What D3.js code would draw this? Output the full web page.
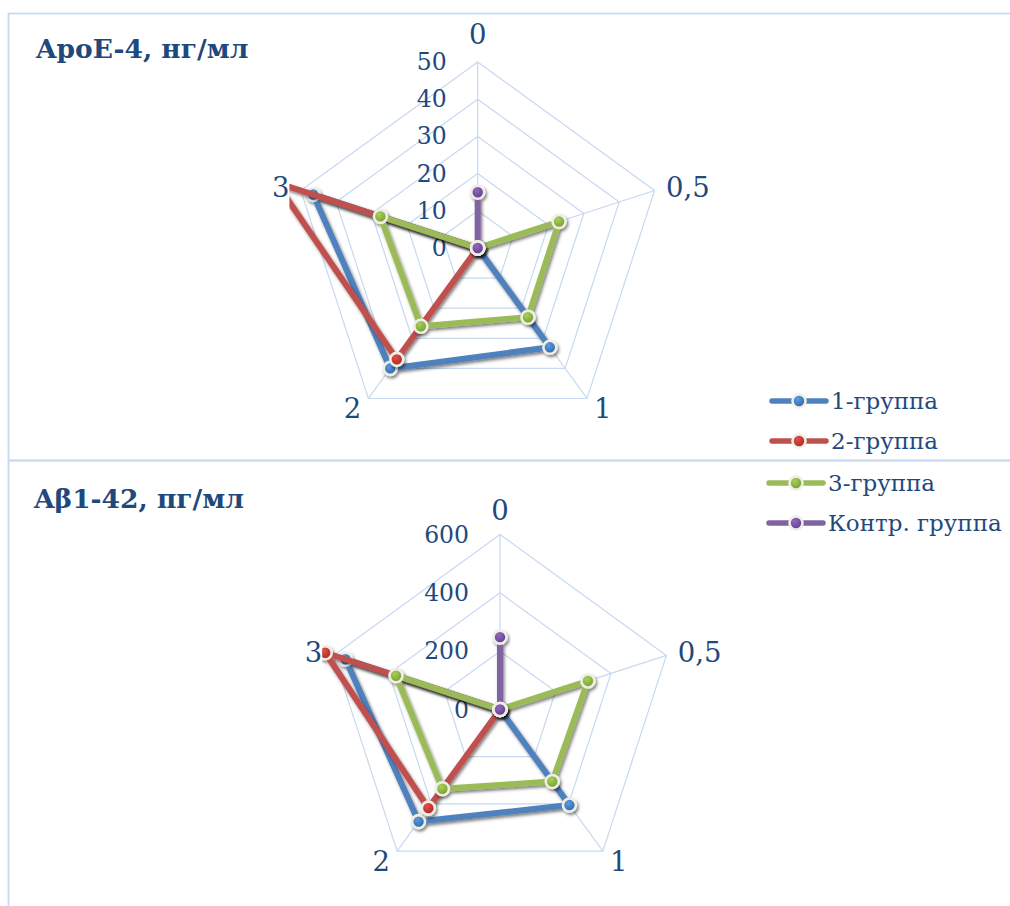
<!DOCTYPE html>
<html><head><meta charset="utf-8">
<script src="https://cdn.jsdelivr.net/npm/d3@7"></script>
<style>
html,body{margin:0;padding:0;background:#fff;}
svg{display:block;}
</style></head>
<body>
<svg id="chart" width="1010" height="906"></svg>
<script>
// ---- data ----
const categories = ["0", "0,5", "1", "2", "3"];
const seriesNames = ["1-группа", "2-группа", "3-группа", "Контр. группа"];

const apoeTitle = "ApoE-4, нг/мл";
const apoeGroup1 = [0, 0, 33, 40, 46.5];
const apoeGroup2 = [0, 0, 0, 37, 57];
const apoeGroup3 = [0, 23, 23, 26, 27.5];
const apoeControl = [15, 0, 0, 0, 0];
const apoeTicks = [0, 10, 20, 30, 40, 50];

const abTitle = "Aβ1-42, пг/мл";
const abGroup1 = [0, 0, 405, 475, 557];
const abGroup2 = [0, 0, 0, 418, 630];
const abGroup3 = [0, 317, 305, 336, 375];
const abControl = [248, 0, 0, 0, 0];
const abTicks = [0, 200, 400, 600];

// ---- styles ----
const lineColors = ["#4f81bd", "#c0504d", "#9bbb59", "#8064a2"];
const markLight = ["#5b9be0", "#e0504a", "#a8d05a", "#9467c0"];
const markDark = ["#2a63a6", "#a8221e", "#6f9a2a", "#5c3a86"];
const textColor = "#1f497d";
const gridColor = "#c6d9f1";
const font = "'DejaVu Serif', 'Liberation Serif', serif";

const svg = d3.select("#chart");
const defs = svg.append("defs");
const f = defs.append("filter").attr("id", "sh")
  .attr("x", "-30%").attr("y", "-30%").attr("width", "160%").attr("height", "160%");
f.append("feDropShadow").attr("dx", 1.5).attr("dy", 2.2).attr("stdDeviation", 1.6)
  .attr("flood-color", "#000").attr("flood-opacity", 0.5);
lineColors.forEach((c, i) => {
  const g = defs.append("radialGradient").attr("id", "mg" + i)
    .attr("cx", "40%").attr("cy", "35%").attr("r", "70%");
  g.append("stop").attr("offset", "0%").attr("stop-color", markLight[i]);
  g.append("stop").attr("offset", "100%").attr("stop-color", markDark[i]);
});

// chart boxes
svg.append("rect").attr("x", 8.5).attr("y", 13.5).attr("width", 1010).attr("height", 447)
  .attr("fill", "none").attr("stroke", gridColor).attr("stroke-width", 1.8);
svg.append("rect").attr("x", 8.5).attr("y", 460.5).attr("width", 1010).attr("height", 460)
  .attr("fill", "none").attr("stroke", gridColor).attr("stroke-width", 1.8);

const N = categories.length;
const ang = i => i * 2 * Math.PI / N;

function radar(cfg) {
  const {cx, cy, R, ticks, series, title, titleX, titleY, id, labelOff} = cfg;
  const max = ticks[ticks.length - 1];
  const r = d3.scaleLinear().domain([0, max]).range([0, R]);
  const g = svg.append("g").attr("transform", `translate(${cx},${cy})`);

  svg.append("text").attr("x", titleX).attr("y", titleY)
    .attr("font-family", font).attr("font-weight", "bold").attr("font-size", 26.5)
    .attr("fill", textColor).text(title);

  // grid rings
  const ring = d3.lineRadial().angle((d, i) => ang(i)).radius(d => r(d)).curve(d3.curveLinearClosed);
  ticks.filter(t => t > 0).forEach(t => {
    g.append("path").attr("d", ring(categories.map(() => t)))
      .attr("fill", "none").attr("stroke", gridColor).attr("stroke-width", 1.2);
  });
  // spokes
  categories.forEach((c, i) => {
    g.append("line").attr("x1", 0).attr("y1", 0)
      .attr("x2", r(max) * Math.sin(ang(i))).attr("y2", -r(max) * Math.cos(ang(i)))
      .attr("stroke", gridColor).attr("stroke-width", 1.2);
  });
  // tick labels
  ticks.forEach(t => {
    g.append("text").attr("x", -31).attr("y", -r(t))
      .attr("text-anchor", "end").attr("dominant-baseline", "central")
      .attr("font-family", font).attr("font-size", 23.5).attr("fill", textColor).text(t);
  });
  // category labels
  categories.forEach((c, i) => {
    const a = ang(i);
    const s = Math.sin(a), co = Math.cos(a);
    let x, y, anchor;
    if (i === 0) { x = 0; y = -(R + labelOff); anchor = "middle"; }
    else {
      x = (R + 12) * s; y = -(R + 12) * co;
      anchor = s > 0 ? "start" : "end";
    }
    g.append("text").attr("x", x).attr("y", y)
      .attr("text-anchor", anchor).attr("dominant-baseline", "central")
      .attr("font-family", font).attr("font-size", 27.5).attr("fill", textColor).text(c);
  });

  // clip on the left side (plot area)
  const clipLeft = -(R + 12) * Math.sin(2 * Math.PI / N);
  defs.append("clipPath").attr("id", "clip" + id).append("rect")
    .attr("x", clipLeft).attr("y", -R - 80).attr("width", 600).attr("height", 2 * R + 160);

  const line = d3.lineRadial().angle((d, i) => ang(i)).radius(d => r(d)).curve(d3.curveLinearClosed);
  const plot = g.append("g").attr("clip-path", `url(#clip${id})`);
  series.forEach((vals, si) => {
    const sg = plot.append("g").attr("filter", "url(#sh)");
    sg.append("path").attr("d", line(vals))
      .attr("fill", "none").attr("stroke", lineColors[si]).attr("stroke-width", 6)
      .attr("stroke-linejoin", "miter").attr("stroke-miterlimit", 4);
    sg.selectAll("circle").data(vals).join("circle")
      .attr("cx", (d, i) => r(d) * Math.sin(ang(i)))
      .attr("cy", (d, i) => -r(d) * Math.cos(ang(i)))
      .attr("r", 6.5)
      .attr("fill", `url(#mg${si})`).attr("stroke", "#efeee4").attr("stroke-width", 2.6);
  });
}

radar({id: "a", cx: 477.7, cy: 248, R: 186, ticks: apoeTicks,
  series: [apoeGroup1, apoeGroup2, apoeGroup3, apoeControl],
  title: apoeTitle, titleX: 36, titleY: 58, labelOff: 28});
radar({id: "b", cx: 500, cy: 709.5, R: 175, ticks: abTicks,
  series: [abGroup1, abGroup2, abGroup3, abControl],
  title: abTitle, titleX: 34, titleY: 508, labelOff: 25});

// legend
const legendYs = [401, 441, 483, 523];
const lg = svg.append("g");
seriesNames.forEach((name, i) => {
  const y = legendYs[i];
  const mx = i < 2 ? 799 : 796;
  const it = lg.append("g");
  it.append("line").attr("x1", mx - 27).attr("x2", mx + 27).attr("y1", y).attr("y2", y)
    .attr("stroke", lineColors[i]).attr("stroke-width", 5.5).attr("stroke-linecap", "round");
  it.append("circle").attr("cx", mx).attr("cy", y).attr("r", 6.5)
    .attr("fill", `url(#mg${i})`).attr("stroke", "#efeee4").attr("stroke-width", 2.6);
  it.append("text").attr("x", mx + 32).attr("y", y)
    .attr("dominant-baseline", "central").attr("font-family", font).attr("font-size", 23)
    .attr("fill", textColor).text(name);
});
</script>
</body></html>
